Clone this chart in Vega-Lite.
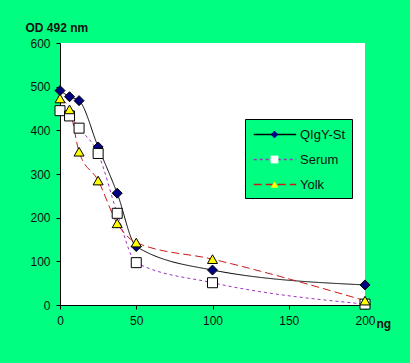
{
  "$schema": "https://vega.github.io/schema/vega-lite/v6.json",
  "width": 305,
  "height": 262,
  "autosize": {"type": "none"},
  "padding": {"left": 60, "top": 43, "right": 45, "bottom": 58},
  "background": "#00FF80",
  "config": {
    "view": {"fill": "white", "stroke": null},
    "font": "Liberation Sans",
    "axis": {"labelFont": "Liberation Sans", "labelFontSize": 12, "labelColor": "#111", "domainColor": "black", "tickColor": "black", "grid": false, "titleFont": "Liberation Sans", "titleFontSize": 12, "titleFontWeight": "bold", "titleColor": "#111"}
  },
  "data": {
    "values": [
      {"series": "QIgY-St", "ng": 0, "od": 491},
      {"series": "QIgY-St", "ng": 6.25, "od": 477},
      {"series": "QIgY-St", "ng": 12.5, "od": 468},
      {"series": "QIgY-St", "ng": 25, "od": 362},
      {"series": "QIgY-St", "ng": 37.5, "od": 256},
      {"series": "QIgY-St", "ng": 50, "od": 134},
      {"series": "QIgY-St", "ng": 100, "od": 80},
      {"series": "QIgY-St", "ng": 200, "od": 46},
      {"series": "Serum", "ng": 0, "od": 445},
      {"series": "Serum", "ng": 6.25, "od": 433},
      {"series": "Serum", "ng": 12.5, "od": 405},
      {"series": "Serum", "ng": 25, "od": 347},
      {"series": "Serum", "ng": 37.5, "od": 210},
      {"series": "Serum", "ng": 50, "od": 97},
      {"series": "Serum", "ng": 100, "od": 51},
      {"series": "Serum", "ng": 200, "od": 2},
      {"series": "Yolk", "ng": 0, "od": 473},
      {"series": "Yolk", "ng": 6.25, "od": 448},
      {"series": "Yolk", "ng": 12.5, "od": 351},
      {"series": "Yolk", "ng": 25, "od": 285},
      {"series": "Yolk", "ng": 37.5, "od": 187},
      {"series": "Yolk", "ng": 50, "od": 143},
      {"series": "Yolk", "ng": 100, "od": 105},
      {"series": "Yolk", "ng": 200, "od": 10}
    ]
  },
  "encoding": {
    "x": {"field": "ng", "type": "quantitative", "scale": {"domain": [0, 200], "nice": false},
      "axis": {"values": [0, 50, 100, 150, 200], "title": "ng", "titleAngle": 0, "titleAlign": "left", "titleBaseline": "alphabetic", "titleX": 316, "titleY": 22, "tickSize": 4, "labelPadding": 6, "labelFlush": false}},
    "y": {"field": "od", "type": "quantitative", "scale": {"domain": [0, 600], "nice": false},
      "axis": {"values": [0, 100, 200, 300, 400, 500, 600], "title": "OD 492 nm", "titleAngle": 0, "titleAlign": "left", "titleBaseline": "alphabetic", "titleX": -35, "titleY": -12, "tickSize": 4, "labelPadding": 6}}
  },
  "layer": [
    {
      "mark": {"type": "line", "interpolate": "monotone", "strokeWidth": 1},
      "encoding": {
        "stroke": {"field": "series", "type": "nominal",
          "scale": {"domain": ["QIgY-St", "Serum", "Yolk"], "range": ["black", "#A030C0", "#CC1A1A"]},
          "legend": {"orient": "none", "legendX": 185, "legendY": 76, "zindex": 0, "title": null, "fillColor": "#00FF80", "strokeColor": "black", "padding": 6, "symbolType": "M-0.8,0H4.2", "symbolSize": 289, "symbolStrokeWidth": 1.5, "labelFontSize": 13, "labelFont": "Liberation Sans", "labelColor": "#111", "labelOffset": 30, "rowPadding": 8}},
        "strokeDash": {"field": "series", "type": "nominal",
          "scale": {"domain": ["QIgY-St", "Serum", "Yolk"], "range": [[1, 0], [3, 3], [8, 4]]},
          "legend": {"orient": "none", "legendX": 185, "legendY": 76, "zindex": 0, "title": null, "fillColor": "#00FF80", "strokeColor": "black", "padding": 6, "symbolType": "M-0.8,0H4.2", "symbolSize": 289, "symbolStrokeWidth": 1.5, "labelFontSize": 13, "labelFont": "Liberation Sans", "labelColor": "#111", "labelOffset": 30, "rowPadding": 8}}
      }
    },
    {
      "mark": {"type": "point", "filled": true, "stroke": "black", "strokeWidth": 1, "opacity": 1, "size": 100},
      "encoding": {
        "shape": {"field": "series", "type": "nominal",
          "scale": {"range": ["diamond", "square", "triangle-up"]},
          "legend": {"orient": "none", "legendX": 208, "legendY": 85, "zindex": 1, "title": null, "padding": 0, "symbolSize": 60, "symbolStrokeColor": "black", "symbolStrokeWidth": 1, "labelExpr": "''", "labelFontSize": 13, "rowPadding": 11}},
        "fill": {"field": "series", "type": "nominal",
          "scale": {"range": ["#000080", "white", "#FFFF00"]},
          "legend": {"orient": "none", "legendX": 208, "legendY": 85, "zindex": 1, "title": null, "padding": 0, "symbolSize": 60, "symbolStrokeColor": "black", "symbolStrokeWidth": 1, "labelExpr": "''", "labelFontSize": 13, "rowPadding": 11}}
      }
    }
  ]
}
